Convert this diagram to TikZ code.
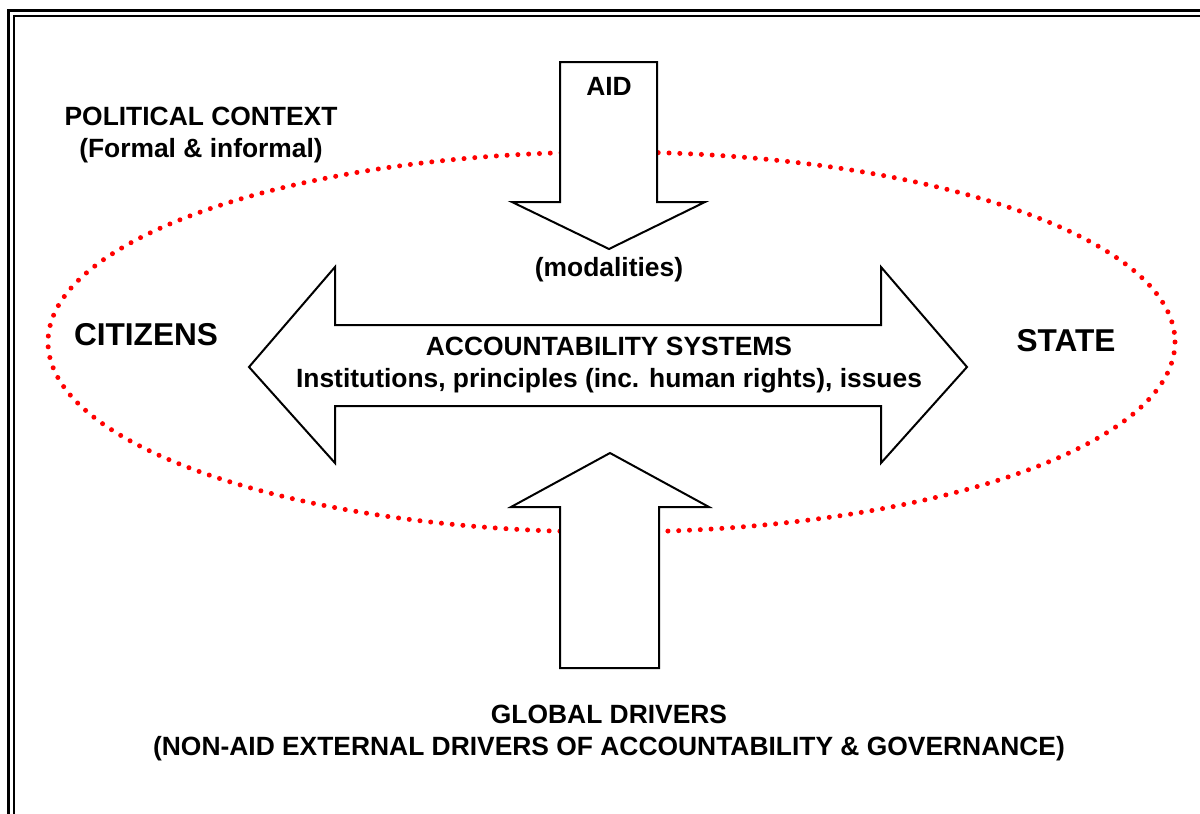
\documentclass[tikz,border=0pt]{standalone}
\usepackage{fontspec}
\setmainfont{Liberation Sans}
\begin{document}
\begin{tikzpicture}[x=0.5pt,y=-0.5pt,
  bigarrow/.style={draw=black,line width=1pt,fill=white,line join=miter},
  frameline/.style={draw=black,line width=1.4pt},
  context/.style={draw=red,line width=2.5pt,line cap=round,dash pattern=on 0pt off 5.4pt},
  lbl/.style={font=\bfseries\fontsize{13.2}{16}\selectfont,align=center,inner sep=0pt},
  biglbl/.style={font=\bfseries\fontsize{15.8}{19}\selectfont,align=center,inner sep=0pt}]
\useasboundingbox (0,0) rectangle (1200,814);
\begin{scope}
\clip (0,0) rectangle (1200,814);
% double frame (cropped at right and bottom)
\draw[frameline] (8.7,830) -- (8.7,10.5) -- (1220,10.5);
\draw[frameline] (14,830) -- (14,16) -- (1220,16);
% political context ellipse
\draw[context] (611.5,342) ellipse [x radius=563.5, y radius=190];
% AID arrow (down)
\draw[bigarrow] (560,62) -- (657,62) -- (657,202) -- (705,202) -- (609,249)
  -- (512,202) -- (560,202) -- cycle;
% global drivers arrow (up)
\draw[bigarrow] (560,668) -- (659,668) -- (659,507) -- (709,507) -- (610,453)
  -- (511,507) -- (560,507) -- cycle;
% accountability double arrow
\draw[bigarrow] (249,367) -- (335,267) -- (335,325) -- (881,325) -- (881,267)
  -- (967,367) -- (881,463) -- (881,406) -- (335,406) -- (335,463) -- cycle;
\end{scope}
% texts
\node[lbl] (aid) at (609,86) {AID};
\node[lbl] (pol) at (201,135) {POLITICAL CONTEXT\\(Formal \& informal)};
\node[lbl] (mod) at (609,270) {(modalities)};
\node[biglbl] (cit) at (146,335) {CITIZENS};
\node[biglbl] (state) at (1066,341) {STATE};
\node[lbl] (acc) at (609,365) {ACCOUNTABILITY SYSTEMS\\Institutions, principles (inc. human rights), issues};
\node[lbl] (glob) at (609,733) {GLOBAL DRIVERS\\(NON-AID EXTERNAL DRIVERS OF ACCOUNTABILITY \& GOVERNANCE)};
\end{tikzpicture}
\end{document}
